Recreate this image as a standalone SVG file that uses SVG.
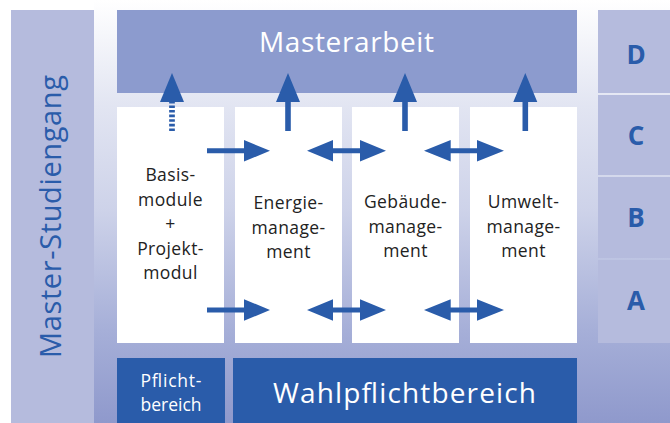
<svg xmlns="http://www.w3.org/2000/svg" width="670" height="423" viewBox="0 0 670 423">
<defs>
<linearGradient id="bg" x1="0" y1="0" x2="0" y2="1">
<stop offset="0" stop-color="#ffffff"/>
<stop offset="0.25" stop-color="#e2e5f2"/>
<stop offset="0.5" stop-color="#cdd2e9"/>
<stop offset="0.78" stop-color="#a6afd8"/>
<stop offset="1" stop-color="#8f99cc"/>
</linearGradient>
<style>
.lav{fill:#b5bbdd}
.dark{fill:#2a5caa}
.white{fill:#ffffff}
.arrow{fill:#2a5caa}
text{font-family:"Open Sans","Noto Sans","DejaVu Sans",sans-serif}
.body{font-size:17.5px;fill:#222222;text-anchor:middle;letter-spacing:0.4px}
.letter{font-size:26px;font-weight:bold;fill:#2a5caa;text-anchor:middle}
.big{font-size:28px;fill:#ffffff;text-anchor:middle}
.small{font-size:17.5px;fill:#ffffff;text-anchor:middle}
</style>
</defs>
<rect x="0" y="0" width="670" height="423" fill="#ffffff"/>
<rect x="94" y="0" width="576" height="423" fill="url(#bg)"/>

<g id="master-studiengang">
<rect class="lav" x="11" y="10" width="83" height="413"/>
<text x="0" y="0" transform="translate(61,216.5) rotate(-90)" font-size="29" fill="#2a5caa" text-anchor="middle" textLength="283" lengthAdjust="spacing">Master-Studiengang</text>
</g>

<g id="masterarbeit">
<rect x="117" y="10" width="460" height="83" fill="#8c9bce"/>
<text class="big" x="346.5" y="52" textLength="175" lengthAdjust="spacing">Masterarbeit</text>
</g>

<g id="basismodule">
<rect class="white" x="117" y="107" width="107" height="236"/>
<text class="body" x="170.5" y="181">Basis-</text>
<text class="body" x="170.5" y="206">module</text>
<text class="body" x="170.5" y="230">+</text>
<text class="body" x="170.5" y="255">Projekt-</text>
<text class="body" x="170.5" y="279">modul</text>
</g>

<g id="energiemanagement">
<rect class="white" x="235" y="107" width="107" height="236"/>
<text class="body" x="288.5" y="209">Energie-</text>
<text class="body" x="288.5" y="233.5">manage-</text>
<text class="body" x="288.5" y="258">ment</text>
</g>

<g id="gebaeudemanagement">
<rect class="white" x="352" y="107" width="107" height="236"/>
<text class="body" x="405.5" y="208">Gebäude-</text>
<text class="body" x="405.5" y="232.5">manage-</text>
<text class="body" x="405.5" y="257">ment</text>
</g>

<g id="umweltmanagement">
<rect class="white" x="470" y="107" width="107" height="236"/>
<text class="body" x="523.5" y="208">Umwelt-</text>
<text class="body" x="523.5" y="232.5">manage-</text>
<text class="body" x="523.5" y="257">ment</text>
</g>

<g id="pflichtbereich">
<rect class="dark" x="117" y="358" width="108" height="65"/>
<text class="small" x="171" y="387" textLength="61" lengthAdjust="spacing">Pflicht-</text>
<text class="small" x="171" y="410.5">bereich</text>
</g>

<g id="wahlpflichtbereich">
<rect class="dark" x="233" y="358" width="344" height="65"/>
<text class="big" x="404.5" y="402.5" font-size="29" textLength="263" lengthAdjust="spacing">Wahlpflichtbereich</text>
</g>

<g id="level-d">
<rect class="lav" x="598" y="10" width="72" height="83"/>
<text class="letter" x="636" y="64">D</text>
</g>
<g id="level-c">
<rect class="lav" x="598" y="95" width="72" height="80"/>
<text class="letter" x="636" y="145">C</text>
</g>
<g id="level-b">
<rect class="lav" x="598" y="177" width="72" height="81"/>
<text class="letter" x="636" y="227">B</text>
</g>
<g id="level-a">
<rect class="lav" x="598" y="260" width="72" height="83"/>
<text class="letter" x="636" y="310">A</text>
</g>

<g id="connectors">
<line x1="172" y1="131" x2="172" y2="101" stroke="#2a5caa" stroke-width="5.7" stroke-dasharray="2.6 2"/>
<path class="arrow" d="M160,102 L172,73 L184,102 Z"/>
<path class="arrow" d="M285.2,131 V102 H276 L288,73 L300,102 H290.8 V131 Z"/>
<path class="arrow" d="M402.2,131 V102 H393 L405,73 L417,102 H407.8 V131 Z"/>
<path class="arrow" d="M522.5,131 V102 H513.3 L525.3,73 L537.3,102 H528.1 V131 Z"/>

<path class="arrow" d="M207,148.3 H244 V140 L270,150.8 L244,161.6 V153.3 H207 Z"/>
<path class="arrow" d="M307,150.8 L333,140 V148.3 H360 V140 L386,150.8 L360,161.6 V153.3 H333 V161.6 Z"/>
<path class="arrow" d="M424,150.8 L450.7,140 V148.3 H477 V140 L504,150.8 L477,161.6 V153.3 H450.7 V161.6 Z"/>

<path class="arrow" d="M207,307.5 H244 V299.2 L270,310 L244,320.8 V312.5 H207 Z"/>
<path class="arrow" d="M307,310 L333,299.2 V307.5 H360 V299.2 L386,310 L360,320.8 V312.5 H333 V320.8 Z"/>
<path class="arrow" d="M424,310 L450.7,299.2 V307.5 H477 V299.2 L504,310 L477,320.8 V312.5 H450.7 V320.8 Z"/>
</g>
</svg>
